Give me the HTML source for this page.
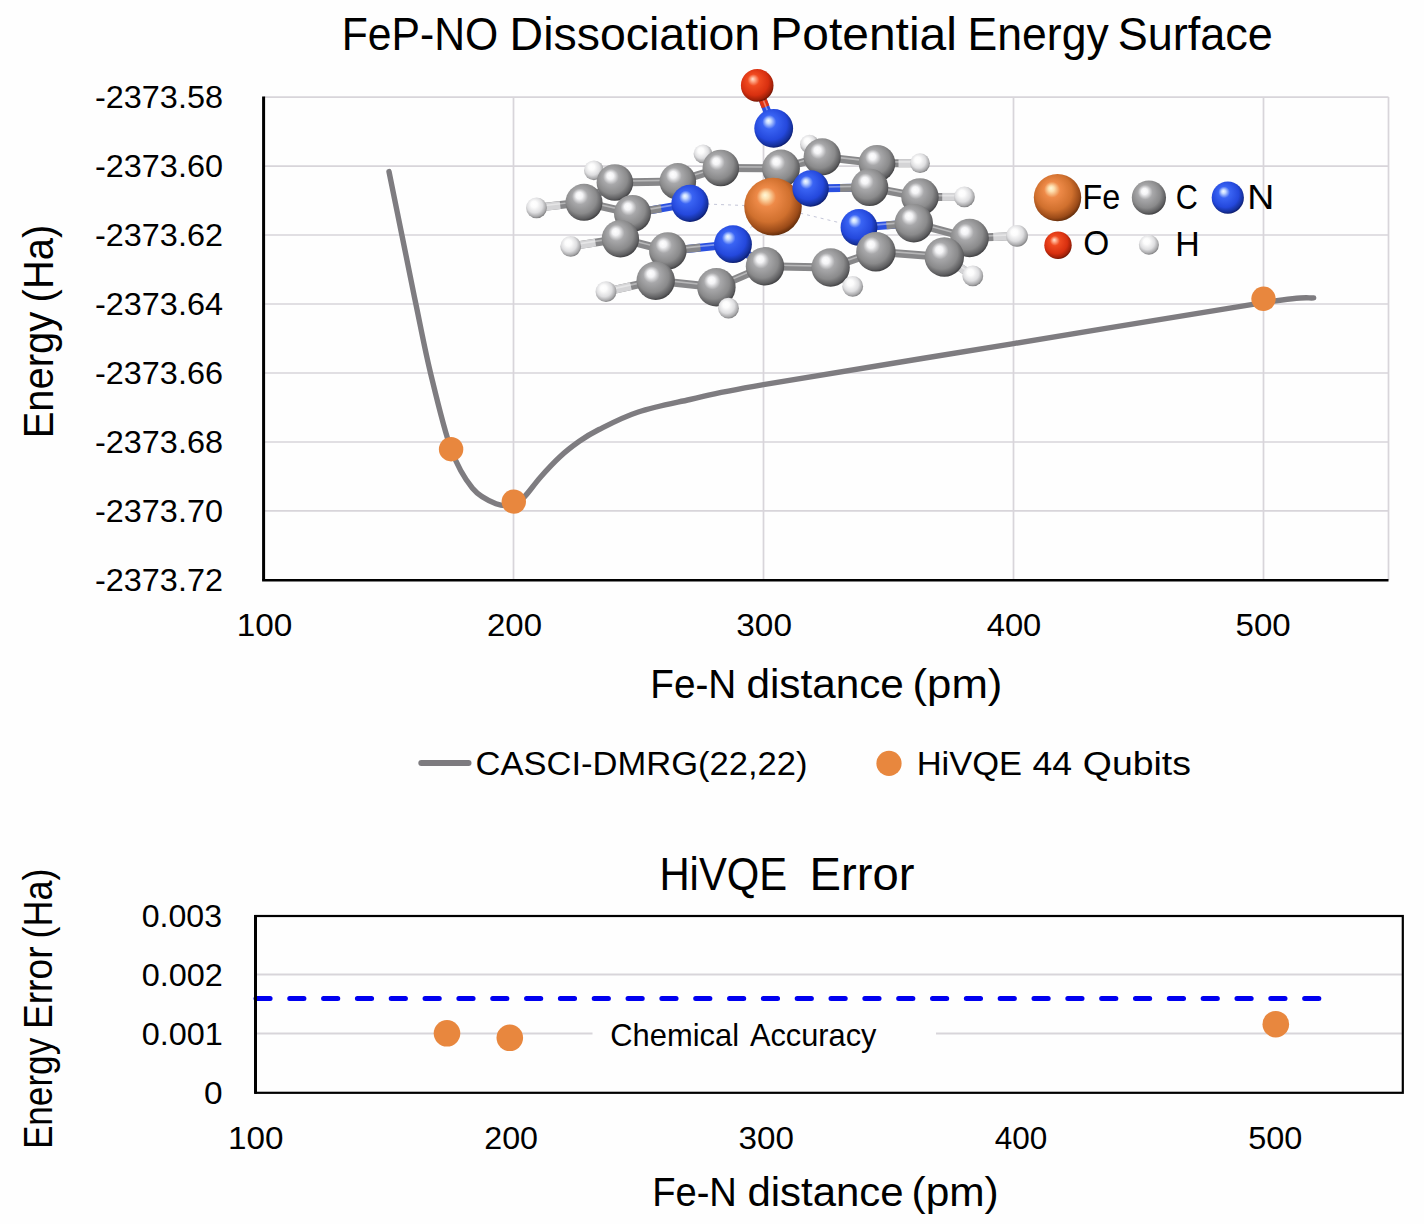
<!DOCTYPE html><html><head><meta charset="utf-8"><style>html,body{margin:0;padding:0;background:#fefefe;width:1424px;height:1224px;overflow:hidden}</style></head><body><svg width="1424" height="1224" viewBox="0 0 1424 1224" style="display:block;font-family:'Liberation Sans', sans-serif">
<defs>
<radialGradient id="gFe" cx="0.45" cy="0.42" r="0.60" fx="0.36" fy="0.3"><stop offset="0" stop-color="#fff8d8"/><stop offset="0.1" stop-color="#fde0b0"/><stop offset="0.28" stop-color="#ee8a48"/><stop offset="0.65" stop-color="#d0702e"/><stop offset="0.88" stop-color="#9a4a18"/><stop offset="1" stop-color="#5a2808"/></radialGradient>
<radialGradient id="gC" cx="0.45" cy="0.42" r="0.60" fx="0.36" fy="0.3"><stop offset="0" stop-color="#ffffff"/><stop offset="0.15" stop-color="#f4f4f6"/><stop offset="0.36" stop-color="#a8a8aa"/><stop offset="0.7" stop-color="#8a8a8b"/><stop offset="0.9" stop-color="#5e5e60"/><stop offset="1" stop-color="#38383a"/></radialGradient>
<radialGradient id="gN" cx="0.45" cy="0.42" r="0.60" fx="0.36" fy="0.3"><stop offset="0" stop-color="#f4faff"/><stop offset="0.1" stop-color="#c8dcff"/><stop offset="0.3" stop-color="#3a64f4"/><stop offset="0.7" stop-color="#2448dc"/><stop offset="0.9" stop-color="#15309a"/><stop offset="1" stop-color="#0a1660"/></radialGradient>
<radialGradient id="gO" cx="0.45" cy="0.42" r="0.60" fx="0.36" fy="0.3"><stop offset="0" stop-color="#ffe0d0"/><stop offset="0.1" stop-color="#ffb090"/><stop offset="0.3" stop-color="#f04a20"/><stop offset="0.7" stop-color="#d83010"/><stop offset="0.9" stop-color="#a02008"/><stop offset="1" stop-color="#601000"/></radialGradient>
<radialGradient id="gH" cx="0.45" cy="0.42" r="0.60" fx="0.36" fy="0.3"><stop offset="0" stop-color="#ffffff"/><stop offset="0.25" stop-color="#fcfcfc"/><stop offset="0.62" stop-color="#dedee0"/><stop offset="0.86" stop-color="#aaaaac"/><stop offset="1" stop-color="#767678"/></radialGradient>
</defs>
<rect width="1424" height="1224" fill="#fefefe"/>
<path d="M263.5,97.1H1388.5M263.5,166.1H1388.5M263.5,235.0H1388.5M263.5,304.0H1388.5M263.5,373.0H1388.5M263.5,442.0H1388.5M263.5,510.9H1388.5M513.5,97.1V579.9M763.5,97.1V579.9M1013.5,97.1V579.9M1263.5,97.1V579.9M1388.5,97.1V579.9" stroke="#d8d5da" stroke-width="1.7" fill="none"/>
<path d="M263.6,96.6V580.3" stroke="#000" stroke-width="3" fill="none"/>
<path d="M262.1,580.3H1388.5" stroke="#000" stroke-width="2.6" fill="none"/>
<path d="M389.0,171.6 C391.2,182.3 397.5,213.6 402.0,235.6 C406.5,257.6 411.0,280.7 415.8,303.6 C420.6,326.6 424.7,349.0 430.6,373.3 C436.5,397.6 444.1,430.0 451.1,449.2 C458.1,468.4 465.0,479.2 472.5,488.3 C480.0,497.4 489.2,501.1 496.0,503.8 C502.8,506.6 508.7,506.0 513.5,504.8 C518.3,503.6 520.3,501.0 524.7,496.5 C529.1,492.0 534.2,484.3 540.0,477.7 C545.8,471.1 553.2,463.1 559.7,457.0 C566.2,450.9 572.8,445.9 579.3,441.3 C585.8,436.7 589.2,434.4 599.0,429.5 C608.8,424.6 623.1,417.0 638.3,412.0 C653.5,407.0 669.1,404.1 690.0,399.5 C710.9,394.9 709.6,393.9 763.5,384.6 C817.4,375.3 930.2,357.3 1013.5,343.6 C1096.8,329.9 1213.5,310.2 1263.5,302.6 C1313.5,295.0 1305.3,298.7 1313.7,297.9" stroke="#7e7c80" stroke-width="5.4" fill="none" stroke-linecap="round" stroke-linejoin="round"/>
<circle cx="451.1" cy="449.2" r="12.2" fill="#e8873e"/>
<circle cx="513.8" cy="501.6" r="12.2" fill="#e8873e"/>
<circle cx="1263.5" cy="298.8" r="12.2" fill="#e8873e"/>
<g fill="#000">
<text x="341.80" y="50.2" font-size="46.2" text-anchor="start" textLength="156.50" lengthAdjust="spacingAndGlyphs" >FeP-NO</text><text x="509.60" y="50.2" font-size="46.2" text-anchor="start" textLength="250.50" lengthAdjust="spacingAndGlyphs" >Dissociation</text><text x="770.30" y="50.2" font-size="46.2" text-anchor="start" textLength="186.60" lengthAdjust="spacingAndGlyphs" >Potential</text><text x="967.60" y="50.2" font-size="46.2" text-anchor="start" textLength="141.10" lengthAdjust="spacingAndGlyphs" >Energy</text><text x="1117.70" y="50.2" font-size="46.2" text-anchor="start" textLength="155.20" lengthAdjust="spacingAndGlyphs" >Surface</text>
<text x="222.98" y="108.1" font-size="30.5" text-anchor="end" textLength="128.00" lengthAdjust="spacingAndGlyphs" >-2373.58</text>
<text x="222.98" y="177.1" font-size="30.5" text-anchor="end" textLength="128.00" lengthAdjust="spacingAndGlyphs" >-2373.60</text>
<text x="222.98" y="246.0" font-size="30.5" text-anchor="end" textLength="128.00" lengthAdjust="spacingAndGlyphs" >-2373.62</text>
<text x="222.98" y="315.0" font-size="30.5" text-anchor="end" textLength="128.00" lengthAdjust="spacingAndGlyphs" >-2373.64</text>
<text x="222.98" y="384.0" font-size="30.5" text-anchor="end" textLength="128.00" lengthAdjust="spacingAndGlyphs" >-2373.66</text>
<text x="222.98" y="453.0" font-size="30.5" text-anchor="end" textLength="128.00" lengthAdjust="spacingAndGlyphs" >-2373.68</text>
<text x="222.98" y="521.9" font-size="30.5" text-anchor="end" textLength="128.00" lengthAdjust="spacingAndGlyphs" >-2373.70</text>
<text x="222.98" y="590.9" font-size="30.5" text-anchor="end" textLength="128.00" lengthAdjust="spacingAndGlyphs" >-2373.72</text>
<text x="264.50" y="636.3" font-size="30.5" text-anchor="middle" textLength="55.68" lengthAdjust="spacingAndGlyphs" >100</text>
<text x="514.54" y="636.3" font-size="30.5" text-anchor="middle" textLength="54.96" lengthAdjust="spacingAndGlyphs" >200</text>
<text x="764.14" y="636.3" font-size="30.5" text-anchor="middle" textLength="55.60" lengthAdjust="spacingAndGlyphs" >300</text>
<text x="1014.02" y="636.3" font-size="30.5" text-anchor="middle" textLength="54.56" lengthAdjust="spacingAndGlyphs" >400</text>
<text x="1263.18" y="636.3" font-size="30.5" text-anchor="middle" textLength="55.12" lengthAdjust="spacingAndGlyphs" >500</text>
<text x="650.30" y="697.9" font-size="40.6" text-anchor="start" textLength="86.00" lengthAdjust="spacingAndGlyphs" >Fe-N</text><text x="746.40" y="697.9" font-size="40.6" text-anchor="start" textLength="157.50" lengthAdjust="spacingAndGlyphs" >distance</text><text x="912.50" y="697.9" font-size="40.6" text-anchor="start" textLength="89.90" lengthAdjust="spacingAndGlyphs" >(pm)</text>
<text x="0" y="0" font-size="42.0" text-anchor="start" textLength="126.40" lengthAdjust="spacingAndGlyphs" transform="translate(52.70,438.30) rotate(-90)">Energy</text><text x="0" y="0" font-size="42.0" text-anchor="start" textLength="77.70" lengthAdjust="spacingAndGlyphs" transform="translate(52.70,302.40) rotate(-90)">(Ha)</text>
<path d="M421.3,763H468.5" stroke="#7d7b7f" stroke-width="6" stroke-linecap="round"/>
<text x="475.58" y="774.9" font-size="32.5" text-anchor="start" textLength="331.88" lengthAdjust="spacingAndGlyphs" >CASCI-DMRG(22,22)</text>
<circle cx="889" cy="763.4" r="12.6" fill="#e8873e"/>
<text x="916.70" y="775.2" font-size="32.5" text-anchor="start" textLength="105.40" lengthAdjust="spacingAndGlyphs" >HiVQE</text><text x="1032.50" y="775.2" font-size="32.5" text-anchor="start" textLength="39.50" lengthAdjust="spacingAndGlyphs" >44</text><text x="1082.80" y="775.2" font-size="32.5" text-anchor="start" textLength="108.10" lengthAdjust="spacingAndGlyphs" >Qubits</text>
</g>
<path d="M255.5,1033.5H1402.8M255.5,974.5H1402.8" stroke="#d8d5da" stroke-width="1.8" fill="none"/>
<rect x="592.5" y="1015" width="343.5" height="40" fill="#fefefe"/>
<path d="M256,998.5H1319" stroke="#0000f0" stroke-width="5" stroke-dasharray="14.2 19.63" stroke-dashoffset="0.1" stroke-linecap="round" fill="none"/>
<rect x="255.5" y="916.0" width="1147.3" height="176.8" stroke="#000" stroke-width="2.2" fill="none"/>
<path d="M255.5,915.0V1093.8" stroke="#000" stroke-width="3" fill="none"/>
<circle cx="447" cy="1033.3" r="13.3" fill="#e8873e"/>
<circle cx="509.8" cy="1037.8" r="13.3" fill="#e8873e"/>
<circle cx="1275.8" cy="1024.2" r="13.3" fill="#e8873e"/>
<g fill="#000">
<text x="659.40" y="890.2" font-size="46.2" text-anchor="start" textLength="127.80" lengthAdjust="spacingAndGlyphs" >HiVQE</text><text x="809.60" y="890.2" font-size="46.2" text-anchor="start" textLength="104.90" lengthAdjust="spacingAndGlyphs" >Error</text>
<text x="222.00" y="926.8" font-size="31.0" text-anchor="end" textLength="80.28" lengthAdjust="spacingAndGlyphs" >0.003</text>
<text x="222.80" y="985.7" font-size="31.0" text-anchor="end" textLength="81.08" lengthAdjust="spacingAndGlyphs" >0.002</text>
<text x="222.80" y="1044.7" font-size="31.0" text-anchor="end" textLength="81.08" lengthAdjust="spacingAndGlyphs" >0.001</text>
<text x="222.72" y="1103.6" font-size="31.0" text-anchor="end" textLength="18.58" lengthAdjust="spacingAndGlyphs" >0</text>
<text x="255.74" y="1149.4" font-size="30.5" text-anchor="middle" textLength="55.44" lengthAdjust="spacingAndGlyphs" >100</text>
<text x="511.14" y="1149.4" font-size="30.5" text-anchor="middle" textLength="53.76" lengthAdjust="spacingAndGlyphs" >200</text>
<text x="766.17" y="1149.4" font-size="30.5" text-anchor="middle" textLength="55.36" lengthAdjust="spacingAndGlyphs" >300</text>
<text x="1020.93" y="1149.4" font-size="30.5" text-anchor="middle" textLength="52.56" lengthAdjust="spacingAndGlyphs" >400</text>
<text x="1275.24" y="1149.4" font-size="30.5" text-anchor="middle" textLength="54.16" lengthAdjust="spacingAndGlyphs" >500</text>
<text x="652.20" y="1205.5" font-size="40.6" text-anchor="start" textLength="84.70" lengthAdjust="spacingAndGlyphs" >Fe-N</text><text x="747.40" y="1205.5" font-size="40.6" text-anchor="start" textLength="156.20" lengthAdjust="spacingAndGlyphs" >distance</text><text x="911.50" y="1205.5" font-size="40.6" text-anchor="start" textLength="87.20" lengthAdjust="spacingAndGlyphs" >(pm)</text>
<text x="0" y="0" font-size="40.5" text-anchor="start" textLength="111.30" lengthAdjust="spacingAndGlyphs" transform="translate(52.10,1149.10) rotate(-90)">Energy</text><text x="0" y="0" font-size="40.5" text-anchor="start" textLength="82.50" lengthAdjust="spacingAndGlyphs" transform="translate(52.10,1029.00) rotate(-90)">Error</text><text x="0" y="0" font-size="40.5" text-anchor="start" textLength="69.80" lengthAdjust="spacingAndGlyphs" transform="translate(52.10,938.40) rotate(-90)">(Ha)</text>
<text x="610.30" y="1045.8" font-size="30.5" text-anchor="start" textLength="128.70" lengthAdjust="spacingAndGlyphs" >Chemical</text><text x="750.00" y="1045.8" font-size="30.5" text-anchor="start" textLength="126.40" lengthAdjust="spacingAndGlyphs" >Accuracy</text>
</g>
<g>
<line x1="773.0" y1="206.6" x2="690.0" y2="203.4" stroke="#c4c6d8" stroke-width="1" stroke-dasharray="3 4"/>
<line x1="773.0" y1="206.6" x2="810.6" y2="188.5" stroke="#c4c6d8" stroke-width="1" stroke-dasharray="3 4"/>
<line x1="773.0" y1="206.6" x2="859.0" y2="227.4" stroke="#c4c6d8" stroke-width="1" stroke-dasharray="3 4"/>
<line x1="773.0" y1="206.6" x2="733.0" y2="244.2" stroke="#c4c6d8" stroke-width="1" stroke-dasharray="3 4"/>
<line x1="690.0" y1="203.4" x2="677.8" y2="181.4" stroke="#2a50e0" stroke-width="8"/>
<line x1="683.9" y1="192.4" x2="677.8" y2="181.4" stroke="#878789" stroke-width="8"/>
<line x1="690.0" y1="202.1" x2="677.8" y2="180.1" stroke="#ffffff" stroke-opacity="0.4" stroke-width="1.6"/>
<line x1="690.0" y1="203.4" x2="632.5" y2="213.4" stroke="#2a50e0" stroke-width="8"/>
<line x1="661.2" y1="208.4" x2="632.5" y2="213.4" stroke="#878789" stroke-width="8"/>
<line x1="690.0" y1="202.1" x2="632.5" y2="212.1" stroke="#ffffff" stroke-opacity="0.4" stroke-width="1.6"/>
<line x1="677.8" y1="181.4" x2="614.9" y2="182.5" stroke="#878789" stroke-width="8"/>
<line x1="677.8" y1="180.1" x2="614.9" y2="181.2" stroke="#ffffff" stroke-opacity="0.4" stroke-width="1.6"/>
<line x1="632.5" y1="213.4" x2="584.0" y2="202.3" stroke="#878789" stroke-width="8"/>
<line x1="632.5" y1="212.1" x2="584.0" y2="201.0" stroke="#ffffff" stroke-opacity="0.4" stroke-width="1.6"/>
<line x1="614.9" y1="182.5" x2="584.0" y2="202.3" stroke="#878789" stroke-width="8"/>
<line x1="614.9" y1="181.2" x2="584.0" y2="201.0" stroke="#ffffff" stroke-opacity="0.4" stroke-width="1.6"/>
<line x1="614.9" y1="182.5" x2="593.9" y2="170.3" stroke="#878789" stroke-width="8"/>
<line x1="604.4" y1="176.4" x2="593.9" y2="170.3" stroke="#d4d4d6" stroke-width="8"/>
<line x1="614.9" y1="181.2" x2="593.9" y2="169.0" stroke="#ffffff" stroke-opacity="0.4" stroke-width="1.6"/>
<line x1="584.0" y1="202.3" x2="536.5" y2="207.8" stroke="#878789" stroke-width="8"/>
<line x1="560.2" y1="205.1" x2="536.5" y2="207.8" stroke="#d4d4d6" stroke-width="8"/>
<line x1="584.0" y1="201.0" x2="536.5" y2="206.5" stroke="#ffffff" stroke-opacity="0.4" stroke-width="1.6"/>
<line x1="720.8" y1="168.0" x2="677.8" y2="181.4" stroke="#878789" stroke-width="8"/>
<line x1="720.8" y1="166.7" x2="677.8" y2="180.1" stroke="#ffffff" stroke-opacity="0.4" stroke-width="1.6"/>
<line x1="720.8" y1="168.0" x2="781.0" y2="168.5" stroke="#878789" stroke-width="8"/>
<line x1="720.8" y1="166.7" x2="781.0" y2="167.2" stroke="#ffffff" stroke-opacity="0.4" stroke-width="1.6"/>
<line x1="720.8" y1="168.0" x2="703.0" y2="153.8" stroke="#878789" stroke-width="8"/>
<line x1="711.9" y1="160.9" x2="703.0" y2="153.8" stroke="#d4d4d6" stroke-width="8"/>
<line x1="720.8" y1="166.7" x2="703.0" y2="152.5" stroke="#ffffff" stroke-opacity="0.4" stroke-width="1.6"/>
<line x1="810.6" y1="188.5" x2="781.0" y2="168.5" stroke="#2a50e0" stroke-width="8"/>
<line x1="795.8" y1="178.5" x2="781.0" y2="168.5" stroke="#878789" stroke-width="8"/>
<line x1="810.6" y1="187.2" x2="781.0" y2="167.2" stroke="#ffffff" stroke-opacity="0.4" stroke-width="1.6"/>
<line x1="810.6" y1="188.5" x2="869.6" y2="187.4" stroke="#2a50e0" stroke-width="8"/>
<line x1="840.1" y1="187.9" x2="869.6" y2="187.4" stroke="#878789" stroke-width="8"/>
<line x1="810.6" y1="187.2" x2="869.6" y2="186.1" stroke="#ffffff" stroke-opacity="0.4" stroke-width="1.6"/>
<line x1="781.0" y1="168.5" x2="822.2" y2="156.9" stroke="#878789" stroke-width="8"/>
<line x1="781.0" y1="167.2" x2="822.2" y2="155.6" stroke="#ffffff" stroke-opacity="0.4" stroke-width="1.6"/>
<line x1="869.6" y1="187.4" x2="877.0" y2="163.2" stroke="#878789" stroke-width="8"/>
<line x1="869.6" y1="186.1" x2="877.0" y2="161.89999999999998" stroke="#ffffff" stroke-opacity="0.4" stroke-width="1.6"/>
<line x1="822.2" y1="156.9" x2="877.0" y2="163.2" stroke="#878789" stroke-width="8"/>
<line x1="822.2" y1="155.6" x2="877.0" y2="161.89999999999998" stroke="#ffffff" stroke-opacity="0.4" stroke-width="1.6"/>
<line x1="822.2" y1="156.9" x2="809.5" y2="144.2" stroke="#878789" stroke-width="8"/>
<line x1="815.9" y1="150.6" x2="809.5" y2="144.2" stroke="#d4d4d6" stroke-width="8"/>
<line x1="822.2" y1="155.6" x2="809.5" y2="142.89999999999998" stroke="#ffffff" stroke-opacity="0.4" stroke-width="1.6"/>
<line x1="877.0" y1="163.2" x2="920.0" y2="163.2" stroke="#878789" stroke-width="8"/>
<line x1="898.5" y1="163.2" x2="920.0" y2="163.2" stroke="#d4d4d6" stroke-width="8"/>
<line x1="877.0" y1="161.89999999999998" x2="920.0" y2="161.89999999999998" stroke="#ffffff" stroke-opacity="0.4" stroke-width="1.6"/>
<line x1="920.0" y1="196.9" x2="869.6" y2="187.4" stroke="#878789" stroke-width="8"/>
<line x1="920.0" y1="195.6" x2="869.6" y2="186.1" stroke="#ffffff" stroke-opacity="0.4" stroke-width="1.6"/>
<line x1="920.0" y1="196.9" x2="913.8" y2="223.2" stroke="#878789" stroke-width="8"/>
<line x1="920.0" y1="195.6" x2="913.8" y2="221.89999999999998" stroke="#ffffff" stroke-opacity="0.4" stroke-width="1.6"/>
<line x1="920.0" y1="196.9" x2="964.4" y2="196.9" stroke="#878789" stroke-width="8"/>
<line x1="942.2" y1="196.9" x2="964.4" y2="196.9" stroke="#d4d4d6" stroke-width="8"/>
<line x1="920.0" y1="195.6" x2="964.4" y2="195.6" stroke="#ffffff" stroke-opacity="0.4" stroke-width="1.6"/>
<line x1="859.0" y1="227.4" x2="913.8" y2="223.2" stroke="#2a50e0" stroke-width="8"/>
<line x1="886.4" y1="225.3" x2="913.8" y2="223.2" stroke="#878789" stroke-width="8"/>
<line x1="859.0" y1="226.1" x2="913.8" y2="221.89999999999998" stroke="#ffffff" stroke-opacity="0.4" stroke-width="1.6"/>
<line x1="859.0" y1="227.4" x2="875.9" y2="251.7" stroke="#2a50e0" stroke-width="8"/>
<line x1="867.5" y1="239.6" x2="875.9" y2="251.7" stroke="#878789" stroke-width="8"/>
<line x1="859.0" y1="226.1" x2="875.9" y2="250.39999999999998" stroke="#ffffff" stroke-opacity="0.4" stroke-width="1.6"/>
<line x1="913.8" y1="223.2" x2="969.6" y2="238.0" stroke="#878789" stroke-width="8"/>
<line x1="913.8" y1="221.89999999999998" x2="969.6" y2="236.7" stroke="#ffffff" stroke-opacity="0.4" stroke-width="1.6"/>
<line x1="875.9" y1="251.7" x2="944.3" y2="257.0" stroke="#878789" stroke-width="8"/>
<line x1="875.9" y1="250.39999999999998" x2="944.3" y2="255.7" stroke="#ffffff" stroke-opacity="0.4" stroke-width="1.6"/>
<line x1="969.6" y1="238.0" x2="944.3" y2="257.0" stroke="#878789" stroke-width="8"/>
<line x1="969.6" y1="236.7" x2="944.3" y2="255.7" stroke="#ffffff" stroke-opacity="0.4" stroke-width="1.6"/>
<line x1="969.6" y1="238.0" x2="1017.0" y2="235.9" stroke="#878789" stroke-width="8"/>
<line x1="993.3" y1="236.9" x2="1017.0" y2="235.9" stroke="#d4d4d6" stroke-width="8"/>
<line x1="969.6" y1="236.7" x2="1017.0" y2="234.6" stroke="#ffffff" stroke-opacity="0.4" stroke-width="1.6"/>
<line x1="944.3" y1="257.0" x2="972.8" y2="275.9" stroke="#878789" stroke-width="8"/>
<line x1="958.5" y1="266.4" x2="972.8" y2="275.9" stroke="#d4d4d6" stroke-width="8"/>
<line x1="944.3" y1="255.7" x2="972.8" y2="274.59999999999997" stroke="#ffffff" stroke-opacity="0.4" stroke-width="1.6"/>
<line x1="830.6" y1="267.5" x2="875.9" y2="251.7" stroke="#878789" stroke-width="8"/>
<line x1="830.6" y1="266.2" x2="875.9" y2="250.39999999999998" stroke="#ffffff" stroke-opacity="0.4" stroke-width="1.6"/>
<line x1="830.6" y1="267.5" x2="765.0" y2="266.3" stroke="#878789" stroke-width="8"/>
<line x1="830.6" y1="266.2" x2="765.0" y2="265.0" stroke="#ffffff" stroke-opacity="0.4" stroke-width="1.6"/>
<line x1="830.6" y1="267.5" x2="852.7" y2="286.4" stroke="#878789" stroke-width="8"/>
<line x1="841.7" y1="276.9" x2="852.7" y2="286.4" stroke="#d4d4d6" stroke-width="8"/>
<line x1="830.6" y1="266.2" x2="852.7" y2="285.09999999999997" stroke="#ffffff" stroke-opacity="0.4" stroke-width="1.6"/>
<line x1="733.0" y1="244.2" x2="765.0" y2="266.3" stroke="#2a50e0" stroke-width="8"/>
<line x1="749.0" y1="255.2" x2="765.0" y2="266.3" stroke="#878789" stroke-width="8"/>
<line x1="733.0" y1="242.89999999999998" x2="765.0" y2="265.0" stroke="#ffffff" stroke-opacity="0.4" stroke-width="1.6"/>
<line x1="733.0" y1="244.2" x2="667.8" y2="250.9" stroke="#2a50e0" stroke-width="8"/>
<line x1="700.4" y1="247.6" x2="667.8" y2="250.9" stroke="#878789" stroke-width="8"/>
<line x1="733.0" y1="242.89999999999998" x2="667.8" y2="249.6" stroke="#ffffff" stroke-opacity="0.4" stroke-width="1.6"/>
<line x1="765.0" y1="266.3" x2="716.4" y2="287.3" stroke="#878789" stroke-width="8"/>
<line x1="765.0" y1="265.0" x2="716.4" y2="286.0" stroke="#ffffff" stroke-opacity="0.4" stroke-width="1.6"/>
<line x1="667.8" y1="250.9" x2="655.7" y2="280.7" stroke="#878789" stroke-width="8"/>
<line x1="667.8" y1="249.6" x2="655.7" y2="279.4" stroke="#ffffff" stroke-opacity="0.4" stroke-width="1.6"/>
<line x1="716.4" y1="287.3" x2="655.7" y2="280.7" stroke="#878789" stroke-width="8"/>
<line x1="716.4" y1="286.0" x2="655.7" y2="279.4" stroke="#ffffff" stroke-opacity="0.4" stroke-width="1.6"/>
<line x1="716.4" y1="287.3" x2="728.5" y2="308.2" stroke="#878789" stroke-width="8"/>
<line x1="722.5" y1="297.8" x2="728.5" y2="308.2" stroke="#d4d4d6" stroke-width="8"/>
<line x1="716.4" y1="286.0" x2="728.5" y2="306.9" stroke="#ffffff" stroke-opacity="0.4" stroke-width="1.6"/>
<line x1="655.7" y1="280.7" x2="606.0" y2="291.7" stroke="#878789" stroke-width="8"/>
<line x1="630.9" y1="286.2" x2="606.0" y2="291.7" stroke="#d4d4d6" stroke-width="8"/>
<line x1="655.7" y1="279.4" x2="606.0" y2="290.4" stroke="#ffffff" stroke-opacity="0.4" stroke-width="1.6"/>
<line x1="620.4" y1="238.7" x2="632.5" y2="213.4" stroke="#878789" stroke-width="8"/>
<line x1="620.4" y1="237.39999999999998" x2="632.5" y2="212.1" stroke="#ffffff" stroke-opacity="0.4" stroke-width="1.6"/>
<line x1="620.4" y1="238.7" x2="667.8" y2="250.9" stroke="#878789" stroke-width="8"/>
<line x1="620.4" y1="237.39999999999998" x2="667.8" y2="249.6" stroke="#ffffff" stroke-opacity="0.4" stroke-width="1.6"/>
<line x1="620.4" y1="238.7" x2="570.7" y2="246.4" stroke="#878789" stroke-width="8"/>
<line x1="595.5" y1="242.6" x2="570.7" y2="246.4" stroke="#d4d4d6" stroke-width="8"/>
<line x1="620.4" y1="237.39999999999998" x2="570.7" y2="245.1" stroke="#ffffff" stroke-opacity="0.4" stroke-width="1.6"/>
<line x1="773.7" y1="128.4" x2="757.2" y2="85.4" stroke="#2a50e0" stroke-width="8"/>
<line x1="765.5" y1="106.9" x2="757.2" y2="85.4" stroke="#e03414" stroke-width="8"/>
<line x1="773.7" y1="127.10000000000001" x2="757.2" y2="84.10000000000001" stroke="#ffffff" stroke-opacity="0.4" stroke-width="1.6"/>
<circle cx="757.2" cy="85.4" r="16.3" fill="url(#gO)"/>
<circle cx="773.7" cy="128.4" r="19.4" fill="url(#gN)"/>
<circle cx="809.5" cy="144.2" r="9.4" fill="url(#gH)"/>
<circle cx="703.0" cy="153.8" r="9.4" fill="url(#gH)"/>
<circle cx="822.2" cy="156.9" r="18.6" fill="url(#gC)"/>
<circle cx="877.0" cy="163.2" r="18.3" fill="url(#gC)"/>
<circle cx="920.0" cy="163.2" r="9.9" fill="url(#gH)"/>
<circle cx="720.8" cy="168.0" r="18.3" fill="url(#gC)"/>
<circle cx="781.0" cy="168.5" r="18.9" fill="url(#gC)"/>
<circle cx="593.9" cy="170.3" r="9.9" fill="url(#gH)"/>
<circle cx="677.8" cy="181.4" r="18.3" fill="url(#gC)"/>
<circle cx="614.9" cy="182.5" r="18.3" fill="url(#gC)"/>
<circle cx="869.6" cy="187.4" r="18.7" fill="url(#gC)"/>
<circle cx="920.0" cy="196.9" r="18.7" fill="url(#gC)"/>
<circle cx="964.4" cy="196.9" r="10.4" fill="url(#gH)"/>
<circle cx="584.0" cy="202.3" r="18.5" fill="url(#gC)"/>
<circle cx="690.0" cy="203.4" r="18.6" fill="url(#gN)"/>
<circle cx="773.0" cy="206.6" r="28.8" fill="url(#gFe)"/>
<circle cx="810.6" cy="188.5" r="18.2" fill="url(#gN)"/>
<circle cx="536.5" cy="207.8" r="10.4" fill="url(#gH)"/>
<circle cx="632.5" cy="213.4" r="18.5" fill="url(#gC)"/>
<circle cx="913.8" cy="223.2" r="19.2" fill="url(#gC)"/>
<circle cx="859.0" cy="227.4" r="18.4" fill="url(#gN)"/>
<circle cx="1017.0" cy="235.9" r="10.9" fill="url(#gH)"/>
<circle cx="969.6" cy="238.0" r="19.2" fill="url(#gC)"/>
<circle cx="620.4" cy="238.7" r="18.7" fill="url(#gC)"/>
<circle cx="733.0" cy="244.2" r="18.9" fill="url(#gN)"/>
<circle cx="570.7" cy="246.4" r="10.4" fill="url(#gH)"/>
<circle cx="667.8" cy="250.9" r="18.7" fill="url(#gC)"/>
<circle cx="875.9" cy="251.7" r="19.7" fill="url(#gC)"/>
<circle cx="944.3" cy="257.0" r="19.7" fill="url(#gC)"/>
<circle cx="765.0" cy="266.3" r="19.2" fill="url(#gC)"/>
<circle cx="830.6" cy="267.5" r="19.2" fill="url(#gC)"/>
<circle cx="972.8" cy="275.9" r="10.4" fill="url(#gH)"/>
<circle cx="655.7" cy="280.7" r="19.2" fill="url(#gC)"/>
<circle cx="852.7" cy="286.4" r="10.4" fill="url(#gH)"/>
<circle cx="716.4" cy="287.3" r="19.2" fill="url(#gC)"/>
<circle cx="606.0" cy="291.7" r="10.4" fill="url(#gH)"/>
<circle cx="728.5" cy="308.2" r="10.4" fill="url(#gH)"/>
</g>
<circle cx="1057.5" cy="197.6" r="23.7" fill="url(#gFe)"/>
<circle cx="1148.9" cy="197.6" r="17.1" fill="url(#gC)"/>
<circle cx="1227.8" cy="197.6" r="16.1" fill="url(#gN)"/>
<circle cx="1058" cy="245.3" r="13.7" fill="url(#gO)"/>
<circle cx="1148.9" cy="244.7" r="10" fill="url(#gH)"/>
<g fill="#000">
<text x="1082.44" y="208.7" font-size="35.5" text-anchor="start" textLength="37.76" lengthAdjust="spacingAndGlyphs" >Fe</text>
<text x="1175.82" y="208.7" font-size="35.5" text-anchor="start" textLength="22.08" lengthAdjust="spacingAndGlyphs" >C</text>
<text x="1247.26" y="208.7" font-size="35.5" text-anchor="start" textLength="27.00" lengthAdjust="spacingAndGlyphs" >N</text>
<text x="1083.24" y="254.8" font-size="34.5" text-anchor="start" textLength="26.04" lengthAdjust="spacingAndGlyphs" >O</text>
<text x="1175.18" y="256.3" font-size="34.5" text-anchor="start" textLength="24.48" lengthAdjust="spacingAndGlyphs" >H</text>
</g>
</svg></body></html>
